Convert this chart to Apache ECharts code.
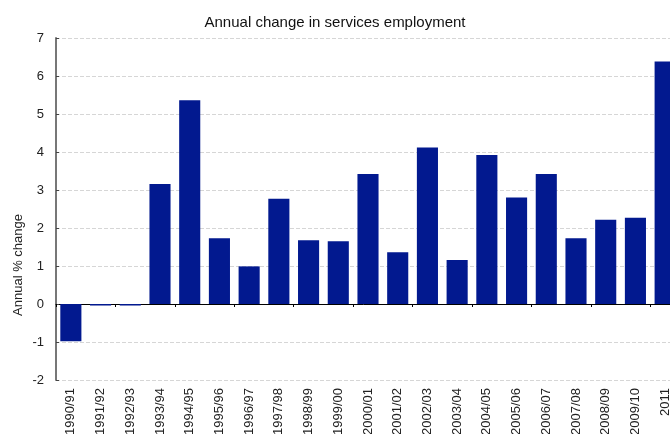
<!DOCTYPE html>
<html>
<head>
<meta charset="utf-8">
<script src="https://cdn.jsdelivr.net/npm/echarts@6/dist/echarts.min.js"></script>
<style>
  html, body { margin: 0; padding: 0; background: #fff; overflow: hidden; }
  #chart { width: 670px; height: 434px; }
</style>
</head>
<body>
<div id="chart"></div>
<script>
// Years of the series
const years = [
  '1990/91', '1991/92', '1992/93', '1993/94', '1994/95', '1995/96', '1996/97',
  '1997/98', '1998/99', '1999/00', '2000/01', '2001/02', '2002/03', '2003/04',
  '2004/05', '2005/06', '2006/07', '2007/08', '2008/09', '2009/10', '2011'
];

// Annual % change in services employment
const annualChange = [
  -0.98, -0.04, -0.04, 3.16, 5.36, 1.73, 0.99,
  2.77, 1.68, 1.65, 3.42, 1.36, 4.12, 1.16,
  3.92, 2.80, 3.42, 1.73, 2.22, 2.27, 6.38
];

const yTicks = { min: -2, max: 7, step: 1 };

const FONT = '"Liberation Sans", Arial, sans-serif';

const chart = echarts.init(document.getElementById('chart'), null, { renderer: 'canvas' });

chart.setOption({
  animation: false,
  backgroundColor: '#ffffff',
  title: {
    text: 'Annual change in services employment',
    left: 'center',
    top: 10,
    textStyle: { fontFamily: FONT, fontSize: 15, fontWeight: 'normal', color: '#111' }
  },
  graphic: [{
    type: 'text',
    x: 18,
    y: 265,
    rotation: Math.PI / 2,
    style: {
      text: 'Annual % change',
      font: '13px ' + FONT,
      fill: '#222',
      textAlign: 'center',
      textVerticalAlign: 'middle'
    }
  }],
  // plot area runs a little past the right edge of the canvas;
  // category labels may run off the bottom
  grid: {
    left: 56, top: 38, width: 624, height: 342,
    containLabel: false,
    outerBoundsMode: 'none'
  },
  xAxis: [{
    type: 'category',
    data: years,
    axisLine: { onZero: true, lineStyle: { color: '#000', width: 1 } },
    axisTick: { show: true, length: 3, lineStyle: { color: '#000' } },
    axisLabel: { show: false },
    splitLine: { show: false }
  }, {
    type: 'category',
    data: years,
    position: 'bottom',
    axisLine: { show: false, onZero: false },
    axisTick: { show: false },
    axisLabel: {
      interval: 0,
      rotate: 90,
      margin: 8,
      fontFamily: FONT,
      fontSize: 13,
      color: '#222'
    },
    splitLine: { show: false }
  }],
  yAxis: {
    type: 'value',
    min: yTicks.min,
    max: yTicks.max,
    interval: yTicks.step,
    axisLine: { show: true, lineStyle: { color: '#777', width: 2 } },
    axisTick: { show: true, inside: true, length: 3, lineStyle: { color: '#444', width: 1 } },
    axisLabel: { fontFamily: FONT, fontSize: 13, color: '#222', margin: 12 },
    splitLine: { show: true, lineStyle: { color: '#d6d6d6', type: [4, 2], width: 1 } }
  },
  series: [{
    type: 'bar',
    xAxisIndex: 0,
    data: annualChange,
    barCategoryGap: '29%',
    itemStyle: { color: '#02198f' }
  }]
});
</script>
</body>
</html>
